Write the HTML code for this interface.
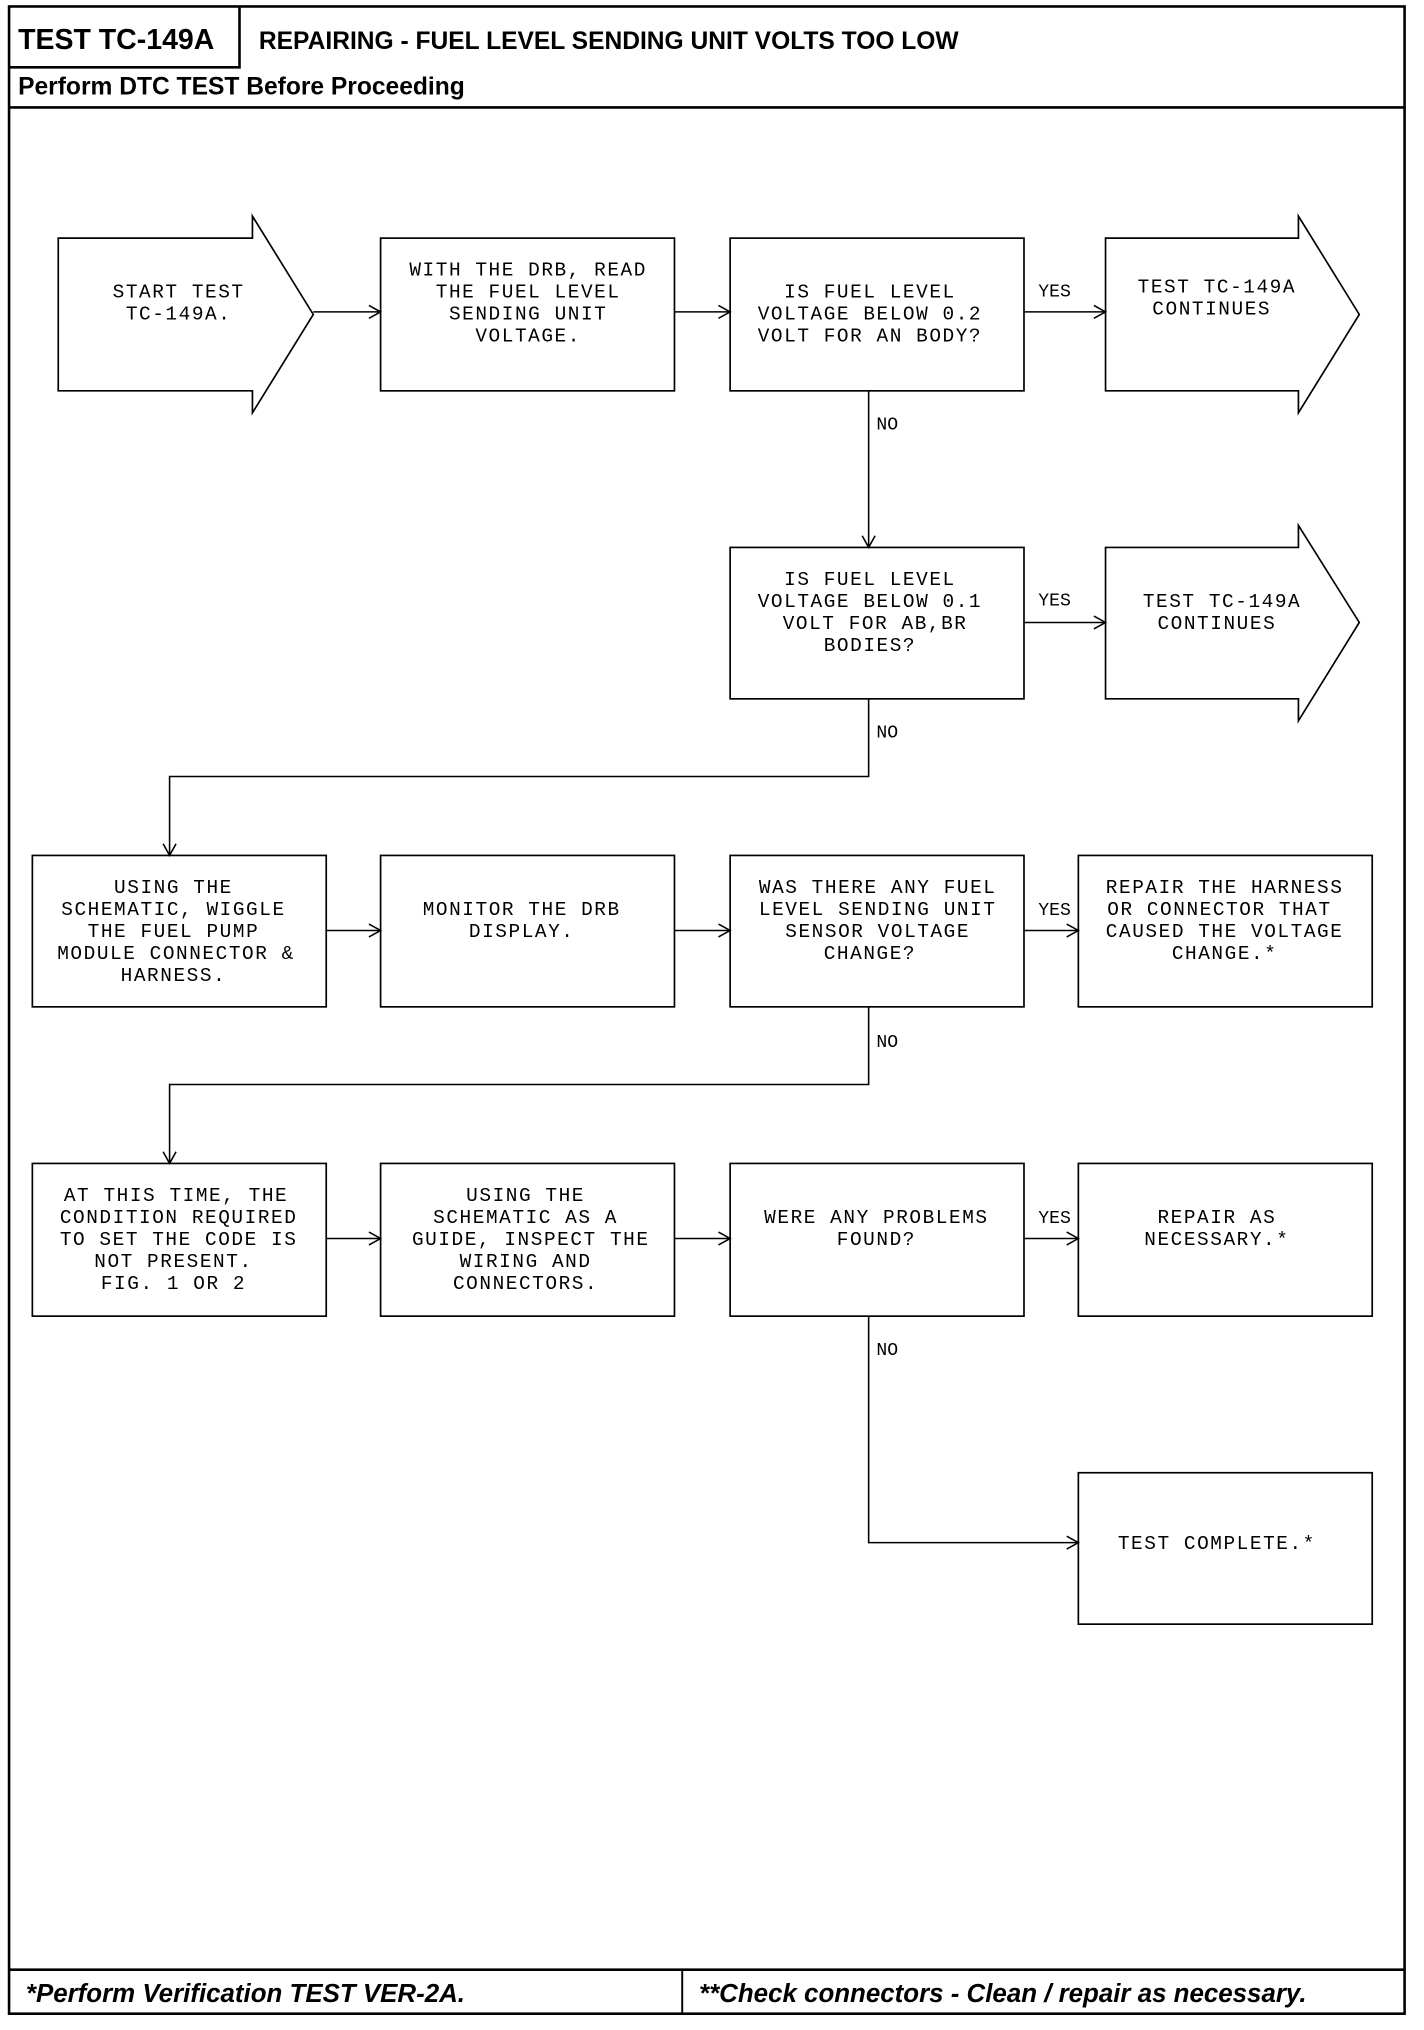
<!DOCTYPE html>
<html><head><meta charset="utf-8"><style>
html,body{margin:0;padding:0;background:#fff;}
svg{display:block;}
.m{font-family:"Liberation Mono",monospace;font-size:15px;letter-spacing:1.2px;fill:#000;text-anchor:middle;}
.l{font-family:"Liberation Mono",monospace;font-size:14px;fill:#000;}
.h{font-family:"Liberation Sans",sans-serif;font-weight:bold;fill:#000;}
</style></head><body>
<svg width="1424" height="2030" viewBox="0 0 1100 1568.6" preserveAspectRatio="none" xmlns="http://www.w3.org/2000/svg">
<defs><marker id="a" markerWidth="12" markerHeight="12" refX="10" refY="6" orient="auto" markerUnits="userSpaceOnUse"><path d="M1,1 L10,6 L1,11" fill="none" stroke="#000" stroke-width="1.2"/></marker></defs>
<g fill="none" stroke="#000">
<rect x="7" y="5" width="1078" height="1551" stroke-width="2"/>
<path d="M185,5 V52 H7" stroke-width="2"/>
<line x1="7" y1="83" x2="1085" y2="83" stroke-width="2"/>
<line x1="7" y1="1522" x2="1085" y2="1522" stroke-width="2"/>
<line x1="527" y1="1522" x2="527" y2="1556" stroke-width="1.5"/>
<g stroke-width="1.3">
<path d="M45,184 H195 V167 L242,243 L195,319 V302 H45 Z"/>
<rect x="294" y="184" width="227" height="118"/>
<rect x="564" y="184" width="227" height="118"/>
<path d="M854,184 H1003 V167 L1050,243 L1003,319 V302 H854 Z"/>
<rect x="564" y="423" width="227" height="117"/>
<path d="M854,423 H1003 V406 L1050,481 L1003,557 V540 H854 Z"/>
<rect x="25" y="661" width="227" height="117"/>
<rect x="294" y="661" width="227" height="117"/>
<rect x="564" y="661" width="227" height="117"/>
<rect x="833" y="661" width="227" height="117"/>
<rect x="25" y="899" width="227" height="118"/>
<rect x="294" y="899" width="227" height="118"/>
<rect x="564" y="899" width="227" height="118"/>
<rect x="833" y="899" width="227" height="118"/>
<rect x="833" y="1138" width="227" height="117"/>
</g>
<g stroke-width="1.2" marker-end="url(#a)">
<line x1="242" y1="241" x2="294" y2="241"/>
<line x1="521" y1="241" x2="564" y2="241"/>
<line x1="791" y1="241" x2="854" y2="241"/>
<line x1="671" y1="302" x2="671" y2="423"/>
<line x1="791" y1="481" x2="854" y2="481"/>
<path d="M671,540 V600 H131 V661"/>
<line x1="252" y1="719" x2="294" y2="719"/>
<line x1="521" y1="719" x2="564" y2="719"/>
<line x1="791" y1="719" x2="833" y2="719"/>
<path d="M671,778 V838 H131 V899"/>
<line x1="252" y1="957" x2="294" y2="957"/>
<line x1="521" y1="957" x2="564" y2="957"/>
<line x1="791" y1="957" x2="833" y2="957"/>
<path d="M671,1017 V1192 H833"/>
</g>
</g>
<text class="h" x="14" y="38" font-size="22">TEST TC-149A</text>
<text class="h" x="200" y="38" font-size="19">REPAIRING - FUEL LEVEL SENDING UNIT VOLTS TOO LOW</text>
<text class="h" x="14" y="73" font-size="19">Perform DTC TEST Before Proceeding</text>
<text class="h" x="20" y="1547" font-size="20" font-style="italic">*Perform Verification TEST VER-2A.</text>
<text class="h" x="540" y="1547" font-size="20" font-style="italic">**Check connectors - Clean / repair as necessary.</text>

<text class="m" x="138" y="230">START TEST</text><text class="m" x="138" y="247">TC-149A.</text>
<text class="m" x="408" y="213">WITH THE DRB, READ</text><text class="m" x="408" y="230">THE FUEL LEVEL</text><text class="m" x="408" y="247">SENDING UNIT</text><text class="m" x="408" y="264">VOLTAGE.</text>
<text class="m" x="672" y="230">IS FUEL LEVEL</text><text class="m" x="672" y="247">VOLTAGE BELOW 0.2</text><text class="m" x="672" y="264">VOLT FOR AN BODY?</text>
<text class="m" x="940" y="226">TEST TC-149A</text><text class="m" x="936" y="243">CONTINUES</text>
<text class="m" x="672" y="452">IS FUEL LEVEL</text><text class="m" x="672" y="469">VOLTAGE BELOW 0.1</text><text class="m" x="676" y="486">VOLT FOR AB,BR</text><text class="m" x="672" y="503">BODIES?</text>
<text class="m" x="944" y="469">TEST TC-149A</text><text class="m" x="940" y="486">CONTINUES</text>
<text class="m" x="134" y="690">USING THE</text><text class="m" x="134" y="707">SCHEMATIC, WIGGLE</text><text class="m" x="134" y="724">THE FUEL PUMP</text><text class="m" x="136" y="741">MODULE CONNECTOR &amp;</text><text class="m" x="134" y="758">HARNESS.</text>
<text class="m" x="403" y="707">MONITOR THE DRB</text><text class="m" x="403" y="724">DISPLAY.</text>
<text class="m" x="678" y="690">WAS THERE ANY FUEL</text><text class="m" x="678" y="707">LEVEL SENDING UNIT</text><text class="m" x="678" y="724">SENSOR VOLTAGE</text><text class="m" x="672" y="741">CHANGE?</text>
<text class="m" x="946" y="690">REPAIR THE HARNESS</text><text class="m" x="942" y="707">OR CONNECTOR THAT</text><text class="m" x="946" y="724">CAUSED THE VOLTAGE</text><text class="m" x="946" y="741">CHANGE.*</text>
<text class="m" x="136" y="928">AT THIS TIME, THE</text><text class="m" x="138" y="945">CONDITION REQUIRED</text><text class="m" x="138" y="962">TO SET THE CODE IS</text><text class="m" x="134" y="979">NOT PRESENT.</text><text class="m" x="134" y="996">FIG. 1 OR 2</text>
<text class="m" x="406" y="928">USING THE</text><text class="m" x="406" y="945">SCHEMATIC AS A</text><text class="m" x="410" y="962">GUIDE, INSPECT THE</text><text class="m" x="406" y="979">WIRING AND</text><text class="m" x="406" y="996">CONNECTORS.</text>
<text class="m" x="677" y="945">WERE ANY PROBLEMS</text><text class="m" x="677" y="962">FOUND?</text>
<text class="m" x="940" y="945">REPAIR AS</text><text class="m" x="940" y="962">NECESSARY.*</text>
<text class="m" x="940" y="1197">TEST COMPLETE.*</text>

<text class="l" x="802" y="229">YES</text><text class="l" x="802" y="468">YES</text><text class="l" x="802" y="707">YES</text><text class="l" x="802" y="945">YES</text>
<text class="l" x="677" y="332">NO</text><text class="l" x="677" y="570">NO</text><text class="l" x="677" y="809">NO</text><text class="l" x="677" y="1047">NO</text>
</svg>
</body></html>
